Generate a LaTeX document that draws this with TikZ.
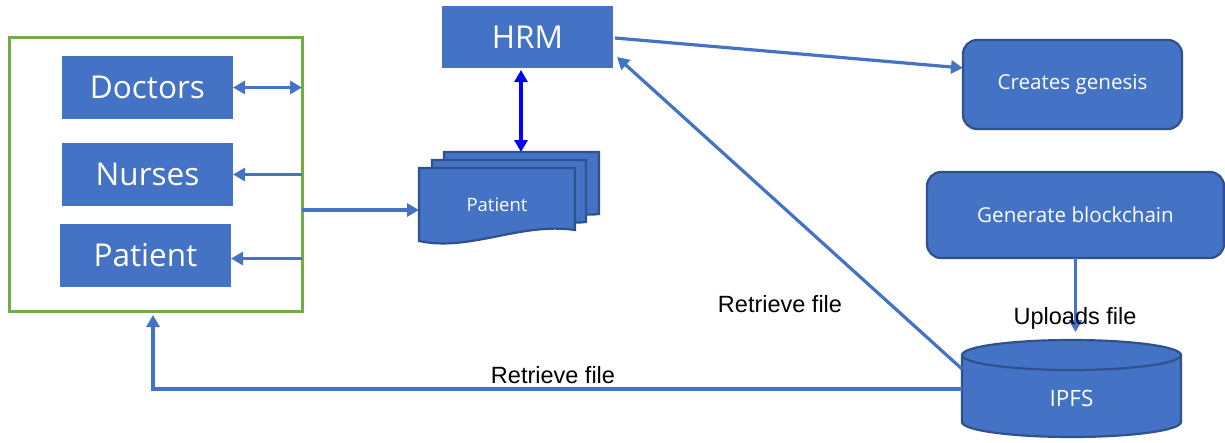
\documentclass[tikz,border=0pt]{standalone}
\usepackage{fontspec}
\newfontfamily\boxfont{Open Sans}
\newfontfamily\labfont{Liberation Sans}
\usetikzlibrary{arrows.meta,calc}
\definecolor{office}{RGB}{68,114,196}
\definecolor{officedark}{RGB}{47,82,143}
\definecolor{grpgreen}{RGB}{112,173,71}

\begin{document}
\begin{tikzpicture}[x=1pt,y=-1pt,
  box/.style={fill=office, text=white, inner sep=0pt, outer sep=0pt,
    font=\boxfont\fontsize{31.5}{38}\selectfont},
  rbox/.style={fill=office, draw=officedark, line width=2.2pt, rounded corners=14pt,
    text=white, inner sep=0pt, outer sep=0pt, font=\boxfont\fontsize{20.6}{25}\selectfont},
  sheet/.style={fill=office, draw=officedark, line width=2.2pt},
  tip/.style={},
  arr/.style={draw=office, line width=3.2pt, -{Triangle[length=12pt,width=13pt]}},
  darr/.style={draw=office, line width=3.2pt, {Triangle[length=12pt,width=13pt]}-{Triangle[length=12pt,width=13pt]}},
  barr/.style={draw=blue, line width=3.2pt, {Triangle[length=12pt,width=13pt]}-{Triangle[length=12pt,width=13pt]}},
  lab/.style={font=\labfont\fontsize{23.5}{28}\selectfont, inner sep=0pt}]
\useasboundingbox (0,0) rectangle (1225,442);

% staff group
\node[draw=grpgreen, line width=3pt, minimum width=293pt, minimum height=274pt,
      inner sep=0pt, outer sep=0pt] (grp) at (155.5,174) {};
\node[box, minimum width=171pt, minimum height=63pt] (doc) at (147.5,87.5) {Doctors};
\node[box, minimum width=171pt, minimum height=63pt] (nur) at (147.5,174.5) {Nurses};
\node[box, minimum width=171pt, minimum height=63pt] (pat) at (145.5,255.5) {Patient};

% HRM
\node[box, minimum width=171pt, minimum height=62pt] (hrm) at (527.5,37) {HRM};

% stacked patient records
\draw[sheet] (444,152) -- (599,152) -- (599,214) .. controls (570,218) and (555,200) .. (444,214) -- cycle;
\draw[sheet] (432,160) -- (586,160) -- (586,222) .. controls (555,226) and (540,208) .. (432,222) -- cycle;
\draw[sheet] (419,168) -- (575,168) -- (575,230) .. controls (520,222) and (470,252) .. (419,241) -- cycle;
\node[text=white, font=\boxfont\fontsize{18.5}{22}\selectfont, inner sep=0pt] (pdoc) at (497,205) {Patient};
\coordinate (pdocTop) at (521,152);
\coordinate (pdocW) at (419,210);

% blockchain side
\node[rbox, minimum width=219pt, minimum height=89pt] (cg) at (1072.5,84.5) {Creates genesis};
\node[rbox, minimum width=297pt, minimum height=86pt] (gb) at (1075.5,215) {Generate blockchain};

% IPFS store
\draw[sheet] (962,355) -- (962,422) arc[start angle=180, end angle=360, x radius=109.5pt, y radius=15pt]
  -- (1181,355);
\draw[sheet] (1071.5,355) ellipse[x radius=109.5pt, y radius=15pt];
\node[text=white, font=\boxfont\fontsize{22.5}{27}\selectfont, inner sep=0pt] (ipfs) at (1071.5,398) {IPFS};
\coordinate (ipfsTop) at (1075.5,332);
\coordinate (ipfsA) at (962,369);
\coordinate (ipfsB) at (962,389);

% connectors
\draw[darr] (doc.east) -- (doc.east -| grp.east);
\draw[arr] (nur.east -| grp.east) -- (nur.east);
\draw[arr] ($(pat.east -| grp.east)+(0,3)$) -- ($(pat.east)+(0,3)$);
\draw[arr] (grp.east |- pdocW) -- (pdocW);
\draw[barr] ($(hrm.south)+(-6.5,2)$) -- (pdocTop);
\draw[arr] ($(hrm.east)+(2,1)$) -- ($(cg.west)+(0,-16.5)$);
\draw[arr] (gb.south) -- (ipfsTop);
\draw[arr] (ipfsA) -- ($(hrm.south east)+(4,-11)$);
\draw[arr] (ipfsB) -| ($(grp.south)+(-2.5,4)$);

% labels
\node[lab] (up) at (1075,318) {Uploads file};
\node[lab] (r1) at (780,304) {Retrieve file};
\node[lab] (r2) at (553,375) {Retrieve file};
\end{tikzpicture}
\end{document}
